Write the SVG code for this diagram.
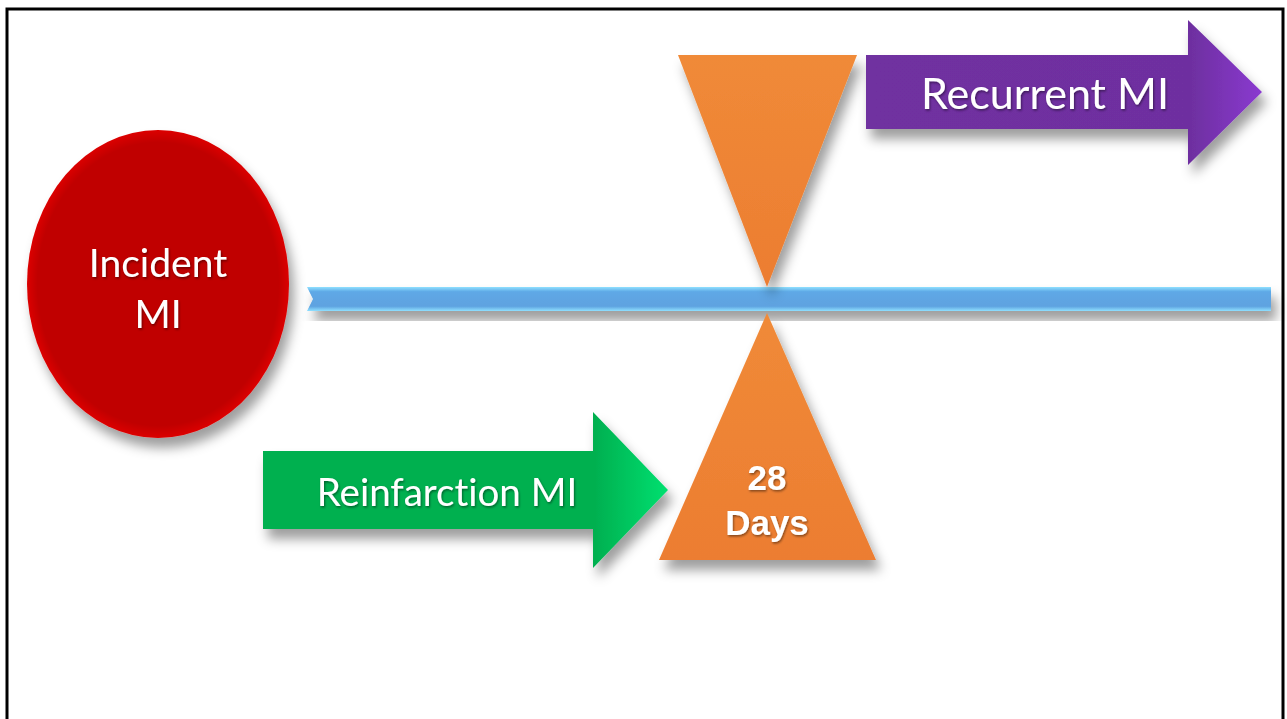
<svg xmlns="http://www.w3.org/2000/svg" width="1287" height="719" viewBox="0 0 1287 719">
  <defs>
    <filter id="shadow" x="-20%" y="-20%" width="150%" height="160%">
      <feDropShadow dx="5" dy="10" stdDeviation="6" flood-color="#000" flood-opacity="0.38"/>
    </filter>
    <filter id="txtShadow" x="-10%" y="-20%" width="120%" height="150%">
      <feDropShadow dx="1" dy="1.5" stdDeviation="0.8" flood-color="#000" flood-opacity="0.45"/>
    </filter>
    <linearGradient id="barGrad" x1="0" y1="0" x2="0" y2="1">
      <stop offset="0" stop-color="#8fe0ff"/>
      <stop offset="0.2" stop-color="#5ea8e6"/>
      <stop offset="0.8" stop-color="#5ea2e0"/>
      <stop offset="1" stop-color="#8fe0ff"/>
    </linearGradient>
    <radialGradient id="redGrad" cx="0.5" cy="0.5" r="0.5">
      <stop offset="0.92" stop-color="#c00000"/>
      <stop offset="1" stop-color="#dc0000"/>
    </radialGradient>
    <linearGradient id="greenGrad" x1="0" y1="0" x2="1" y2="0">
      <stop offset="0" stop-color="#00b050"/>
      <stop offset="0.82" stop-color="#00b050"/>
      <stop offset="1" stop-color="#00e070"/>
    </linearGradient>
    <linearGradient id="purpleGrad" x1="0" y1="0" x2="1" y2="0">
      <stop offset="0" stop-color="#7030a0"/>
      <stop offset="0.82" stop-color="#6e2fa0"/>
      <stop offset="1" stop-color="#8a3ad0"/>
    </linearGradient>
    <linearGradient id="orangeGrad" x1="0" y1="0" x2="0" y2="1">
      <stop offset="0" stop-color="#f08a38"/>
      <stop offset="1" stop-color="#ec7d31"/>
    </linearGradient>
  </defs>
  <style>
    .lbl { font-family: Lato, "Open Sans", "Liberation Sans", sans-serif; fill: #fff; text-anchor: middle; font-variant-ligatures: none; }
    .bold { font-family: "Liberation Sans", Arial, sans-serif; font-weight: bold; fill: #fff; text-anchor: middle; }
  </style>

  <rect x="0" y="0" width="1287" height="719" fill="#fff"/>
  <!-- frame (open at the bottom) -->
  <path d="M7,719 V9 H1283 V719" fill="none" stroke="#000" stroke-width="3"/>

  <!-- timeline -->
  <g id="connectors">
    <g id="timeline" filter="url(#shadow)">
      <path d="M307,287 H1271 V311 H307 L313,299 Z" fill="url(#barGrad)"/>
    </g>
  </g>

  <g id="incident" filter="url(#shadow)">
    <ellipse cx="158" cy="284" rx="131" ry="154" fill="url(#redGrad)"/>
    <g filter="url(#txtShadow)">
      <text class="lbl" x="158" y="277" font-size="39">Incident</text>
      <text class="lbl" x="158" y="328" font-size="39">MI</text>
    </g>
  </g>

  <g id="marker-top" filter="url(#shadow)">
    <polygon points="678,55 857,55 767,287" fill="url(#orangeGrad)"/>
  </g>

  <g id="marker-28days" filter="url(#shadow)">
    <polygon points="767,313 876,560 659,560" fill="url(#orangeGrad)"/>
    <g filter="url(#txtShadow)">
      <text class="bold" x="767" y="490" font-size="35">28</text>
      <text class="bold" x="767" y="535" font-size="35">Days</text>
    </g>
  </g>

  <g id="recurrent" filter="url(#shadow)">
    <polygon points="866,55 1188,55 1188,20 1262,92 1188,165 1188,129 866,129" fill="url(#purpleGrad)"/>
    <text class="lbl" x="1045" y="109" font-size="43" filter="url(#txtShadow)">Recurrent MI</text>
  </g>

  <g id="reinfarction" filter="url(#shadow)">
    <polygon points="263,451 593,451 593,412 668,490 593,568 593,529 263,529" fill="url(#greenGrad)"/>
    <text class="lbl" x="447" y="506" font-size="38.5" filter="url(#txtShadow)">Reinfarction MI</text>
  </g>
</svg>
